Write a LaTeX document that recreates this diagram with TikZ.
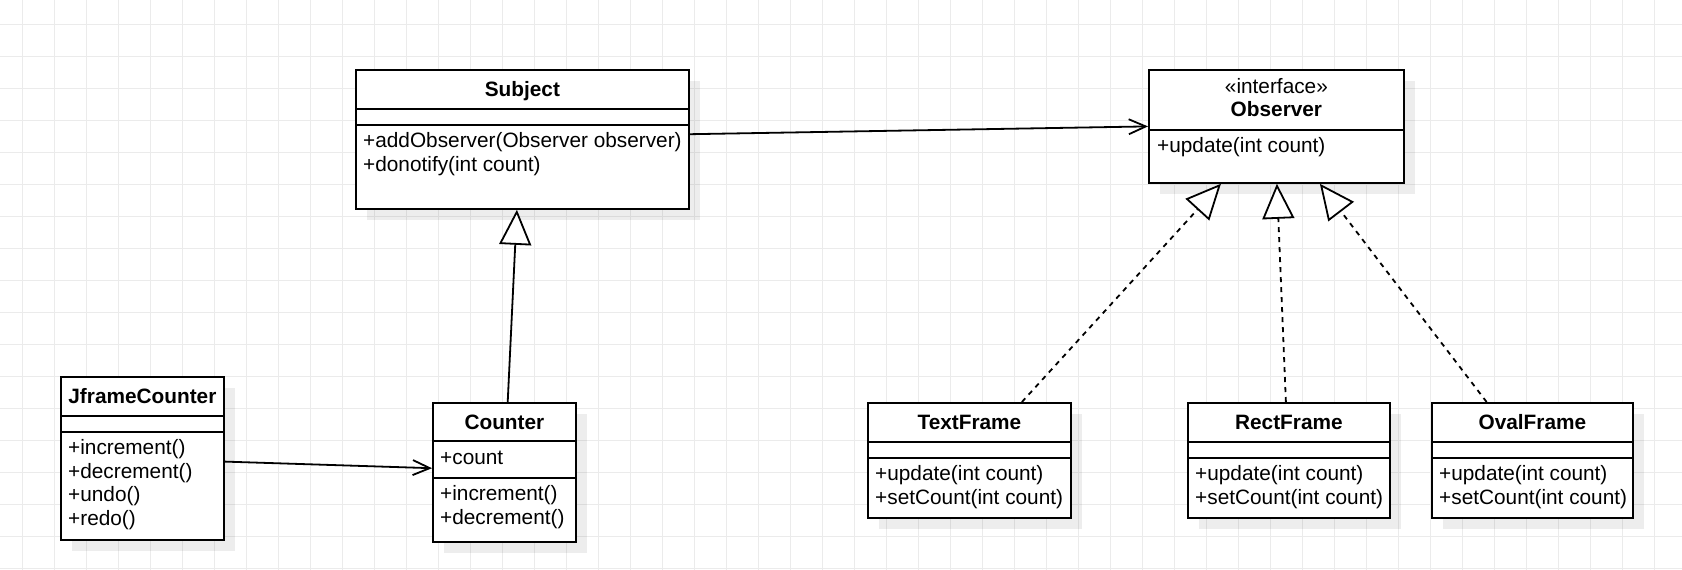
\documentclass[tikz,border=0pt]{standalone}
\usepackage{fontspec}
\setmainfont{Liberation Sans}
\usetikzlibrary{arrows.meta,calc,shadows}
\begin{document}
\begin{tikzpicture}[x=1pt,y=-1pt,
  txt/.style={font=\fontsize{20.8}{23.5}\selectfont, inner sep=0pt},
  member/.style={txt, anchor=base west},
  title/.style={txt, font=\fontsize{20.8}{23.5}\selectfont\bfseries, anchor=base},
  stereo/.style={txt, anchor=base},
  gridline/.style={draw=black!8, line width=1pt},
  classbox/.style={draw=black, line width=1.8pt, fill=white, rectangle,
    inner sep=0pt, anchor=north west,
    drop shadow={shadow xshift=11pt, shadow yshift=-11pt, fill=black,
      opacity=0.07, draw=none}},
  sepline/.style={draw=black, line width=1.8pt},
  assoc/.style={draw=black, line width=1.8pt,
    -{Straight Barb[length=17pt,width=15pt,line width=1.8pt]}},
  inherit/.style={draw=black, line width=1.8pt,
    -{Triangle[length=35pt,width=32pt,fill=white,line width=1.8pt]}},
  realize/.style={inherit, dash pattern=on 5pt off 5pt},
]
\useasboundingbox (0,0) rectangle (1682,570);

% background grid
\foreach \x in {22,54,...,1654} \draw[gridline] (\x,0) -- (\x,570);
\foreach \y in {24,56,...,568} \draw[gridline] (0,\y) -- (1682,\y);

% ---------- Subject ----------
\node[classbox, minimum width=333pt, minimum height=139pt] (subj) at (355,69) {};
\draw[sepline] ([yshift=-40pt]subj.north west) -- ([yshift=-40pt]subj.north east);
\draw[sepline] ([yshift=-56pt]subj.north west) -- ([yshift=-56pt]subj.north east);
\node[title] (subj-t) at ($(subj.north)+(0,27)$) {Subject};
\node[member] (subj-m1) at ($(subj.north west)+(8,78.5)$) {+addObserver(Observer observer)};
\node[member] (subj-m2) at ($(subj.north west)+(8,102)$) {+donotify(int count)};

% ---------- Observer ----------
\node[classbox, minimum width=255pt, minimum height=113pt] (obs) at (1148,69) {};
\draw[sepline] ([yshift=-61pt]obs.north west) -- ([yshift=-61pt]obs.north east);
\node[stereo] (obs-s) at ($(obs.north)+(0,24)$) {«interface»};
\node[title] (obs-t) at ($(obs.north)+(0,47.5)$) {Observer};
\node[member] (obs-m1) at ($(obs.north west)+(9,83.5)$) {+update(int count)};

% ---------- JframeCounter ----------
\node[classbox, minimum width=163pt, minimum height=163pt] (jfc) at (60,376) {};
\draw[sepline] ([yshift=-40pt]jfc.north west) -- ([yshift=-40pt]jfc.north east);
\draw[sepline] ([yshift=-56pt]jfc.north west) -- ([yshift=-56pt]jfc.north east);
\node[title] (jfc-t) at ($(jfc.north)+(0,27)$) {JframeCounter};
\node[member] (jfc-m1) at ($(jfc.north west)+(8,78.5)$) {+increment()};
\node[member] (jfc-m2) at ($(jfc.north west)+(8,102)$) {+decrement()};
\node[member] (jfc-m3) at ($(jfc.north west)+(8,125.5)$) {+undo()};
\node[member] (jfc-m4) at ($(jfc.north west)+(8,149)$) {+redo()};

% ---------- Counter ----------
\node[classbox, minimum width=143pt, minimum height=139pt] (cnt) at (432,402) {};
\draw[sepline] ([yshift=-39pt]cnt.north west) -- ([yshift=-39pt]cnt.north east);
\draw[sepline] ([yshift=-76pt]cnt.north west) -- ([yshift=-76pt]cnt.north east);
\node[title] (cnt-t) at ($(cnt.north)+(0,27)$) {Counter};
\node[member] (cnt-a1) at ($(cnt.north west)+(8,62.5)$) {+count};
\node[member] (cnt-m1) at ($(cnt.north west)+(8,98.5)$) {+increment()};
\node[member] (cnt-m2) at ($(cnt.north west)+(8,122)$) {+decrement()};

% ---------- TextFrame ----------
\node[classbox, minimum width=203pt, minimum height=115pt] (tf) at (867,402) {};
\draw[sepline] ([yshift=-40pt]tf.north west) -- ([yshift=-40pt]tf.north east);
\draw[sepline] ([yshift=-56pt]tf.north west) -- ([yshift=-56pt]tf.north east);
\node[title] (tf-t) at ($(tf.north)+(0,27)$) {TextFrame};
\node[member] (tf-m1) at ($(tf.north west)+(8,78.5)$) {+update(int count)};
\node[member] (tf-m2) at ($(tf.north west)+(8,102)$) {+setCount(int count)};

% ---------- RectFrame ----------
\node[classbox, minimum width=202pt, minimum height=115pt] (rf) at (1187,402) {};
\draw[sepline] ([yshift=-40pt]rf.north west) -- ([yshift=-40pt]rf.north east);
\draw[sepline] ([yshift=-56pt]rf.north west) -- ([yshift=-56pt]rf.north east);
\node[title] (rf-t) at ($(rf.north)+(0,27)$) {RectFrame};
\node[member] (rf-m1) at ($(rf.north west)+(8,78.5)$) {+update(int count)};
\node[member] (rf-m2) at ($(rf.north west)+(8,102)$) {+setCount(int count)};

% ---------- OvalFrame ----------
\node[classbox, minimum width=201pt, minimum height=115pt] (of) at (1431,402) {};
\draw[sepline] ([yshift=-40pt]of.north west) -- ([yshift=-40pt]of.north east);
\draw[sepline] ([yshift=-56pt]of.north west) -- ([yshift=-56pt]of.north east);
\node[title] (of-t) at ($(of.north)+(0,27)$) {OvalFrame};
\node[member] (of-m1) at ($(of.north west)+(8,78.5)$) {+update(int count)};
\node[member] (of-m2) at ($(of.north west)+(8,102)$) {+setCount(int count)};

% ---------- connectors ----------
\draw[assoc] ([yshift=5.2pt]subj.east) -- (obs.west);
\draw[assoc] ([yshift=-3.2pt]jfc.east) -- ([yshift=4.2pt]cnt.west);
\draw[inherit] ([xshift=3.3pt]cnt.north) -- ([xshift=-5.5pt]subj.south);
\draw[realize] ([xshift=52.5pt]tf.north) -- ([xshift=-55.5pt]obs.south);
\draw[realize] ([xshift=-3pt]rf.north) -- ([xshift=0.5pt]obs.south);
\draw[realize] ([xshift=-45.8pt]of.north) -- ([xshift=43.5pt]obs.south);
\end{tikzpicture}
\end{document}
